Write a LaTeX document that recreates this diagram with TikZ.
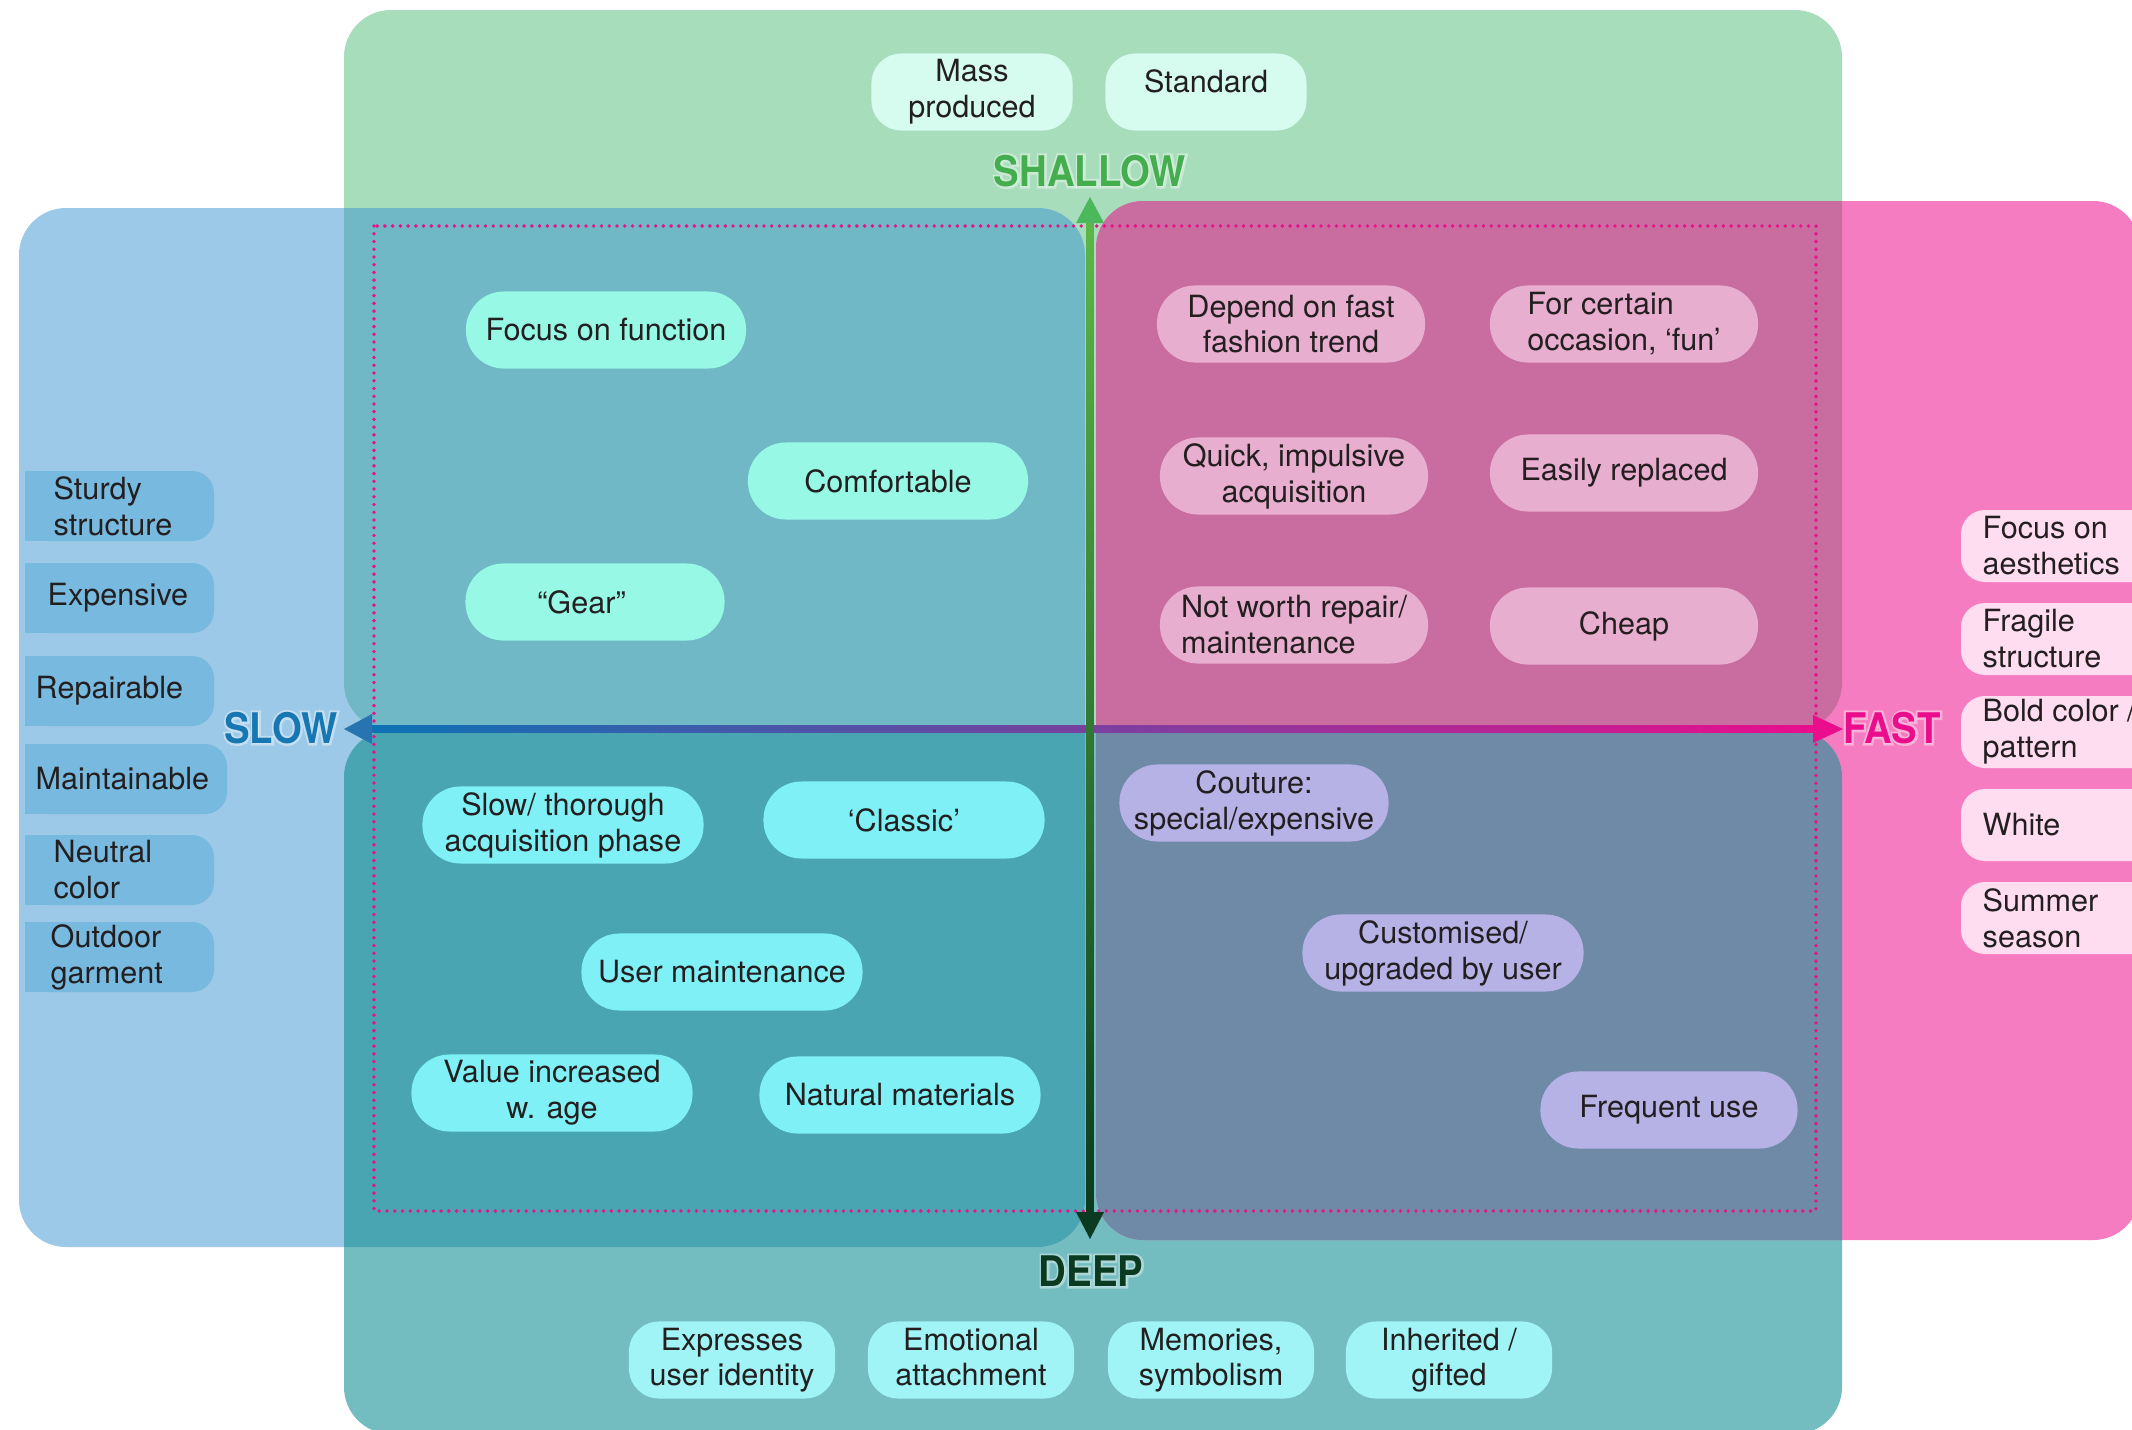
\documentclass[tikz,border=0pt]{standalone}
\usepackage{fontspec}
\setmainfont{TeX Gyre Heros}
\newfontfamily\axisfont[FakeStretch=0.91]{TeX Gyre Heros}
\newfontfamily\haloface[FakeStretch=0.91,FakeBold=10]{TeX Gyre Heros}
\usetikzlibrary{calc}

% zone colours (flat, overlaps painted by clipping)
\definecolor{greenbg}{HTML}{A8DDBB}
\definecolor{tealbg}{HTML}{73BCBF}
\definecolor{bluebg}{HTML}{9BC9E7}
\definecolor{bluegreen}{HTML}{70B8C6}
\definecolor{blueteal}{HTML}{4AA5B3}
\definecolor{pinkbg}{HTML}{F67CC1}
\definecolor{pinkgreen}{HTML}{C96C9F}
\definecolor{pinkteal}{HTML}{6F8AA6}
% boxes
\definecolor{sspill}{HTML}{98F8E6}
\definecolor{sfpill}{HTML}{E8AECF}
\definecolor{dspill}{HTML}{7FF0F5}
\definecolor{dfpill}{HTML}{B6B2E6}
\definecolor{topfill}{HTML}{D6FCEF}
\definecolor{botfill}{HTML}{A0F4F6}
\definecolor{slowtagfill}{HTML}{78B9DF}
\definecolor{fasttagfill}{HTML}{FFDDF1}
\definecolor{inkgray}{HTML}{231F20}
% axes
\definecolor{dotpink}{HTML}{E8138A}
\definecolor{slowline}{HTML}{0A73B4}
\definecolor{slowtip}{HTML}{2874B0}
\definecolor{slowtext}{HTML}{1677B3}
\definecolor{midpurple}{HTML}{8B63A3}
\definecolor{fastpink}{HTML}{EA0D8C}
\definecolor{shallowtip}{HTML}{4CB85C}
\definecolor{shallowline}{HTML}{5DB74A}
\definecolor{shallowtext}{HTML}{44AE4E}
\definecolor{deepgreen}{HTML}{0A3A1F}

\tikzset{
  zone/.style={rounded corners=0.47cm},
  txt/.style={text=inkgray, font=\fontsize{8.7}{10.2}\selectfont},
  pill/.style={txt, rectangle, rounded corners=0.38cm, minimum width=2.8cm, minimum height=0.77cm, inner ysep=1.5pt, align=center},
  shallowslow/.style={pill, fill=sspill},
  shallowfast/.style={pill, fill=sfpill, minimum width=2.68cm},
  deepslow/.style={pill, fill=dspill, minimum width=2.81cm},
  deepfast/.style={pill, fill=dfpill},
  toptag/.style={txt, rectangle, rounded corners=0.3cm, fill=topfill, minimum width=2.01cm, minimum height=0.77cm, inner ysep=1.5pt, align=center},
  bottag/.style={toptag, fill=botfill, minimum width=2.06cm, text depth=1.9pt, font=\fontsize{8.7}{9.8}\selectfont},
  sidetext/.style={txt, anchor=west, align=left, inner sep=0pt},
  axislabel/.style={font=\axisfont\bfseries\fontsize{12}{14}\selectfont, inner sep=0pt},
  halolabel/.style={font=\haloface\bfseries\fontsize{12}{14}\selectfont, inner sep=0pt, text=white, opacity=0.4},
  dotline/.style={dotpink, line width=1.1pt, dash pattern=on 0pt off 2.2pt, line cap=round},
}

% axis word with a soft white halo behind it
\newcommand{\glowlabel}[4]{%
  \node[halolabel] (#1-halo) at (#2) {#4};
  \node[axislabel, text=#3] (#1) at (#2) {#4};}

\begin{document}
\begin{tikzpicture}[x=0.01cm, y=-0.01cm]
  \useasboundingbox (0,0) rectangle (2132,1430);
  \clip (0,0) rectangle (2132,1430);
  \fill[white] (0,0) rectangle (2132,1430);

  % the four zones
  \coordinate (shallowA) at (344,10);  \coordinate (shallowB) at (1842,730);
  \coordinate (deepA) at (344,730);    \coordinate (deepB) at (1842,1434);
  \coordinate (slowA) at (19,208);     \coordinate (slowB) at (1085,1247);
  \coordinate (fastA) at (1096,201);   \coordinate (fastB) at (2140,1240);
  \fill[greenbg, zone] (shallowA) rectangle (shallowB);
  \fill[tealbg, zone] (deepA) rectangle (deepB);
  \fill[bluebg, zone] (slowA) rectangle (slowB);
  \fill[pinkbg, zone] (fastA) rectangle (fastB);
  \begin{scope}
    \clip[zone] (shallowA) rectangle (shallowB);
    \fill[bluegreen, zone] (slowA) rectangle (slowB);
    \fill[pinkgreen, zone] (fastA) rectangle (fastB);
  \end{scope}
  \begin{scope}
    \clip[zone] (deepA) rectangle (deepB);
    \fill[blueteal, zone] (slowA) rectangle (slowB);
    \fill[pinkteal, zone] (fastA) rectangle (fastB);
  \end{scope}

  \draw[dotline] (374,226) rectangle (1816,1211);

  % axes
  \coordinate (mid) at (1090,729);
  \coordinate (slowend) at (344,729);
  \coordinate (fastend) at (1843,729);
  \coordinate (shallowend) at (1090,197);
  \coordinate (deepend) at (1090,1239);
  \shade[left color=slowline, middle color=midpurple, right color=fastpink]
    ($(slowend)+(20,-3.5)$) rectangle ($(fastend)+(-20,3.5)$);
  \fill[slowtip] (slowend) -- ++(28,-15) -- ++(0,30) -- cycle;
  \fill[fastpink] (fastend) -- ++(-30,-14) -- ++(0,28) -- cycle;
  \shade[top color=shallowline, bottom color=deepgreen]
    ($(shallowend)+(-3.5,20)$) rectangle ($(deepend)+(3.5,-20)$);
  \fill[shallowtip] (shallowend) -- ++(-14,26) -- ++(28,0) -- cycle;
  \fill[deepgreen] (deepend) -- ++(-14,-27) -- ++(28,0) -- cycle;

  \coordinate (shallowpos) at (1090,171);
  \coordinate (slowpos) at (281,728);
  \coordinate (fastpos) at (1892,728);
  \coordinate (deeppos) at (1091,1271);
  \glowlabel{shallow}{shallowpos}{shallowtext}{SHALLOW}
  \glowlabel{slow}{slowpos}{slowtext}{SLOW}
  \glowlabel{fast}{fastpos}{fastpink}{FAST}
  \glowlabel{deep}{deeppos}{deepgreen}{DEEP}

  % top and bottom rows
  \node[toptag] (mass) at (972,92) {Mass\\produced};
  \node[toptag] (standard) at (1206,92) {\raisebox{3pt}[\height][\depth]{Standard}};
  \node[bottag] (identity) at (732,1360) {Expresses\\user identity};
  \node[bottag] (attach) at (971,1360) {Emotional\\attachment};
  \node[bottag] (memories) at (1211,1360) {Memories,\\symbolism};
  \node[bottag] (gifted) at (1449,1360) {Inherited /\\gifted};

  % side columns
  \foreach \n/\y/\w/\dx/\t in {sturdy/506/189/28/{Sturdy\\structure},
      expensive/598/189/22/Expensive, repairable/691/189/10/Repairable,
      maintain/779/202/10/Maintainable, neutral/870/189/28/{Neutral\\color},
      outdoor/957/189/25/{Outdoor\\garment}} {
    \fill[slowtagfill, rounded corners=0.22cm] (25,\y-35) rectangle (25+\w,\y+35);
    \fill[slowtagfill] (25,\y-35) rectangle (100,\y+35);
    \node[sidetext] (\n) at (25+\dx,\y) {\t};
  }
  \foreach \n/\y/\t in {aesthetics/546/{Focus on\\aesthetics},
      fragile/639/{Fragile\\structure}, bold/732/{Bold color /\\pattern},
      white/825/White, summer/918/{Summer\\season}} {
    \fill[fasttagfill, rounded corners=0.24cm] (1961,\y-36) rectangle (2200,\y+36);
    \node[sidetext] (\n) at (1982,\y) {\t};
  }

  % quadrants
  \node[shallowslow] (function) at (606,330) {Focus on function};
  \node[shallowslow] (comfort) at (888,481) {Comfortable};
  \node[shallowslow, minimum width=2.59cm] (gear) at (595,602) {“Gear”\hspace{0.27cm}};

  \node[shallowfast] (trend) at (1291,324) {Depend on fast\\fashion trend};
  \node[shallowfast, align=left] (occasion) at (1624,324) {For certain\\occasion, ‘fun’};
  \node[shallowfast] (impulse) at (1294,476) {Quick, impulsive\\acquisition};
  \node[shallowfast] (replaced) at (1624,473) {Easily replaced};
  \node[shallowfast, align=left] (repair) at (1294,625) {Not worth repair/\\maintenance};
  \node[shallowfast] (cheap) at (1624,626) {Cheap};

  \node[deepslow] (thorough) at (563,825) {Slow/ thorough\\acquisition phase};
  \node[deepslow] (classic) at (904,820) {‘Classic’};
  \node[deepslow] (usermaint) at (722,972) {User maintenance};
  \node[deepslow] (value) at (552,1093) {Value increased\\w. age};
  \node[deepslow] (natural) at (900,1095) {Natural materials};

  \node[deepfast, minimum width=2.69cm] (couture) at (1254,803) {Couture:\\special/expensive};
  \node[deepfast, minimum width=2.81cm] (custom) at (1443,953) {Customised/\\upgraded by user};
  \node[deepfast, minimum width=2.57cm] (frequent) at (1669,1110) {Frequent use};
\end{tikzpicture}
\end{document}
